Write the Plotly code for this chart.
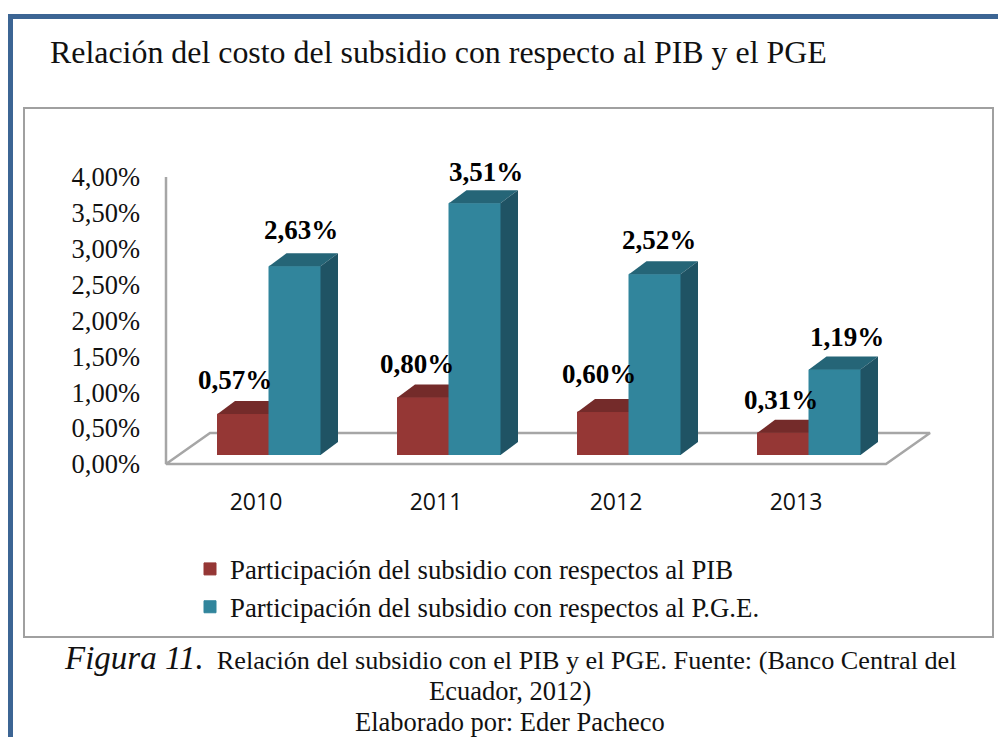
import plotly.graph_objects as go

YEARS = ["2010", "2011", "2012", "2013"]
PIB = [0.57, 0.80, 0.60, 0.31]
PGE = [2.63, 3.51, 2.52, 1.19]
Y_TICKS = [0, 0.5, 1, 1.5, 2, 2.5, 3, 3.5, 4]
Y_LABELS = ["0,00%", "0,50%", "1,00%", "1,50%", "2,00%", "2,50%", "3,00%", "3,50%", "4,00%"]
PIB_NAME = "Participación del subsidio con respectos al PIB"
PGE_NAME = "Participación del subsidio con respectos al P.G.E."
TITLE = "Relación del costo del subsidio con respecto al PIB y el PGE"

W, H = 998, 737
SERIF = "Liberation Serif"
RED, RED_TOP = "#953735", "#742b2a"
TEAL, TEAL_TOP, TEAL_SIDE = "#31859c", "#256577", "#1f5364"

# pixel geometry of the pseudo-3D plot
X0, X1, Y0, Y4 = 166, 886, 464, 177
UX = (X1 - X0) / 4          # px per category
UY = (Y0 - Y4) / 4          # px per 1 %
SHIFT_X, SHIFT_Y = 13, 9    # bars stand this far behind the front edge of the floor
BAR_W = 51.5 / UX
DX, DY = 17.5 / UX, 13 / UY
FX, FY = 44 / UX, 31 / UY   # floor depth
PAD_L, PAD_R, PAD_B = 9, 6, 14   # room around the floor so that its lines are not clipped
PIB_LABEL_DX = [-8, -6, -4.5, -2.5]
PGE_LABEL_DX = [6.5, 11, 4, 12]
PIB_LABEL_DY = [34, 34, 38, 33]
PGE_LABEL_DY = [36, 31, 34, 33]


def px(v):
    return v / W


def py(v):
    return 1 - v / H


def poly(x, y):
    return dict(x=x, y=y, mode="lines", fill="toself", line=dict(width=0), hoverinfo="skip",
                showlegend=False, cliponaxis=False)


fig = go.Figure()
idx = list(range(len(YEARS)))

# floor and value axis line (behind everything)
fig.add_trace(go.Scatter(
    x=[-0.5, -0.5, -0.5 + FX, 3.5 + FX, 3.5, -0.5], y=[4, 0, FY, FY, 0, 0], mode="lines",
    line=dict(color="#a6a6a6", width=2.5), hoverinfo="skip", showlegend=False,
    xaxis="x", yaxis="y"))

# red series on the lower subplot
fig.add_trace(go.Bar(x=idx, y=PIB, width=BAR_W, offset=-BAR_W, name=PIB_NAME, legendgroup="a",
                     marker=dict(color=RED, line=dict(color=RED, width=1)), xaxis="x2", yaxis="y2"))
for i, v in enumerate(PIB):
    l = i - BAR_W
    fig.add_trace(go.Scatter(**poly([l, l + DX, i + DX, i, l], [v, v + DY, v + DY, v, v]),
                             fillcolor=RED_TOP, xaxis="x2", yaxis="y2"))

# teal series on the upper subplot
fig.add_trace(go.Bar(x=idx, y=PGE, width=BAR_W, offset=0, name=PGE_NAME, legendgroup="b",
                     marker=dict(color=TEAL, line=dict(color=TEAL, width=1)), xaxis="x3", yaxis="y3"))
for i, v in enumerate(PGE):
    r = i + BAR_W
    fig.add_trace(go.Scatter(**poly([i, i + DX, r + DX, r, i], [v, v + DY, v + DY, v, v]),
                             fillcolor=TEAL_TOP, xaxis="x3", yaxis="y3"))
    fig.add_trace(go.Scatter(**poly([r, r + DX, r + DX, r, r], [0, DY, v + DY, v, 0]),
                             fillcolor=TEAL_SIDE, xaxis="x3", yaxis="y3"))

annotations = []
for i in idx:
    annotations.append(dict(x=i - BAR_W / 2, y=PIB[i], xref="x3", yref="y3", xshift=PIB_LABEL_DX[i],
                            yshift=PIB_LABEL_DY[i], text=f"<b>{PIB[i]:.2f}%</b>".replace(".", ","),
                            showarrow=False, font=dict(family=SERIF, size=27, color="#000")))
    annotations.append(dict(x=i + BAR_W / 2, y=PGE[i], xref="x3", yref="y3", xshift=PGE_LABEL_DX[i],
                            yshift=PGE_LABEL_DY[i], text=f"<b>{PGE[i]:.2f}%</b>".replace(".", ","),
                            showarrow=False, font=dict(family=SERIF, size=27, color="#000")))

annotations.append(dict(x=px(48), y=py(52), xref="paper", yref="paper", xanchor="left", yanchor="middle",
                        text=TITLE, showarrow=False, font=dict(family=SERIF, size=31.9, color="#111")))
caption = [
    ('<i><span style="font-size:33px">Figura 11.</span></i>&nbsp; Relación del subsidio con el PIB y el PGE. '
     'Fuente: (Banco Central del', 658, 26.2),
    ("Ecuador, 2012)", 691, 26.5),
    ("Elaborado por: Eder Pacheco", 722, 26.5),
]
for text, y, size in caption:
    annotations.append(dict(x=px(510), y=py(y), xref="paper", yref="paper", xanchor="center", yanchor="middle",
                            text=text, showarrow=False, font=dict(family=SERIF, size=size, color="#111")))

x_range = [-0.5 - PAD_L / UX, 3.5 + FX + PAD_R / UX]
y_range = [-PAD_B / UY, 4 + 4 / UY]
xdom = [px(X0 - PAD_L), px(X1 + 44 + PAD_R)]
ydom = [py(Y0 + PAD_B), py(Y4 - 4)]
xdom_b = [px(X0 + SHIFT_X), px(X1 + SHIFT_X)]
ydom_b = [py(Y0 - SHIFT_Y), py(Y4 - SHIFT_Y)]
hidden = dict(visible=False, fixedrange=True)

fig.update_layout(
    width=W, height=H, margin=dict(l=0, r=0, t=0, b=0, autoexpand=False), autosize=False,
    paper_bgcolor="white", plot_bgcolor="rgba(0,0,0,0)", barmode="overlay",
    xaxis=dict(domain=xdom, range=x_range, tickmode="array", tickvals=idx, ticktext=YEARS,
               showgrid=False, zeroline=False, showline=False, ticks="", ticklabelstandoff=8,
               tickfont=dict(family="Open Sans", size=23, color="#111"), anchor="y"),
    yaxis=dict(domain=ydom, range=y_range, tickmode="array", tickvals=Y_TICKS, ticktext=Y_LABELS,
               showgrid=False, zeroline=False, showline=False,
               ticks="", ticklabelstandoff=16, tickfont=dict(family=SERIF, size=26.5, color="#111"),
               anchor="x"),
    xaxis2=dict(domain=xdom_b, range=[-0.5, 3.5], anchor="y2", **hidden),
    yaxis2=dict(domain=ydom_b, range=[0, 4], anchor="x2", **hidden),
    xaxis3=dict(domain=xdom_b, range=[-0.5, 3.5], anchor="y3", **hidden),
    yaxis3=dict(domain=ydom_b, range=[0, 4], anchor="x3", **hidden),
    legend=dict(x=px(190), y=py(545), xanchor="left", yanchor="top", traceorder="grouped", tracegroupgap=0,
                bgcolor="rgba(0,0,0,0)", font=dict(family=SERIF, size=26.8, color="#111")),
    annotations=annotations,
    shapes=[
        dict(type="rect", xref="paper", yref="paper", x0=px(24), x1=px(993), y0=py(108), y1=py(637),
             line=dict(color="#a0a0a0", width=2), layer="below"),
        dict(type="rect", xref="paper", yref="paper", x0=px(8), x1=px(13), y0=py(14), y1=0,
             fillcolor="#3c6594", line=dict(width=0), layer="below"),
        dict(type="rect", xref="paper", yref="paper", x0=px(8), x1=1, y0=py(14), y1=py(19),
             fillcolor="#3c6594", line=dict(width=0), layer="below"),
    ],
)

fig.write_html("out.html", post_script="document.body.style.margin='0';",
               config={"displayModeBar": False})
